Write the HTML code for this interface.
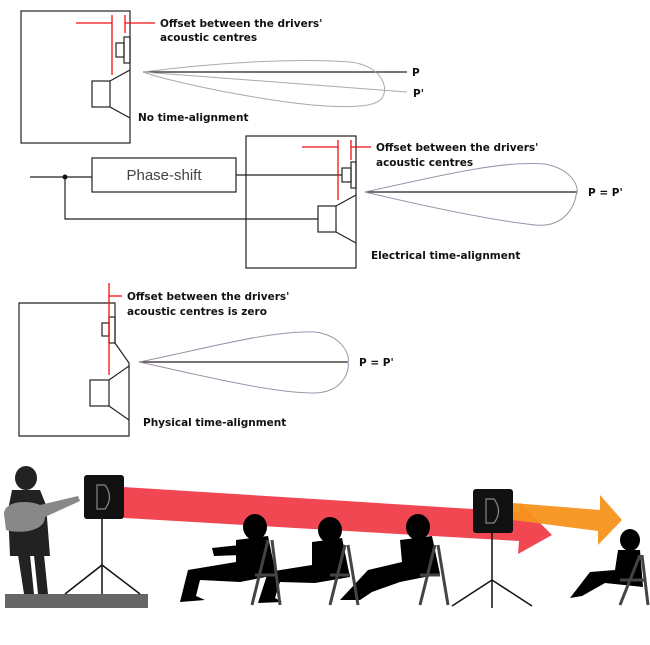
<!DOCTYPE html>
<html><head><meta charset="utf-8"><style>
html,body{margin:0;padding:0;background:#fff;}
svg{display:block;}
.t{font-family:"DejaVu Sans",sans-serif;font-weight:bold;font-size:10.5px;fill:#111;}
</style></head><body>
<svg width="650" height="645" viewBox="0 0 650 645" xmlns="http://www.w3.org/2000/svg">
<g fill="none" stroke="#222" stroke-width="1.2">
<rect x="21" y="11" width="109" height="132"/>
<rect x="124" y="37" width="6" height="26"/>
<rect x="116" y="43" width="8" height="14"/>
<rect x="92" y="81" width="18" height="26"/>
<line x1="110" y1="81" x2="130" y2="70"/>
<line x1="110" y1="107" x2="130" y2="118"/>
<line x1="143" y1="72" x2="407" y2="72"/>
</g>
<g fill="none" stroke="#aaa" stroke-width="1">
<path d="M143 72 C220 62 300 58 350 62 C385 66 390 92 380 100 C370 110 320 108 260 98 C200 88 160 78 143 72 Z"/>
<line x1="143" y1="72" x2="407" y2="92"/>
</g>
<g stroke="#e11" stroke-width="1.3">
<line x1="76" y1="23" x2="112" y2="23"/><line x1="125" y1="23" x2="155" y2="23"/>
<line x1="112" y1="15" x2="112" y2="75"/><line x1="125" y1="15" x2="125" y2="33"/>
</g>
<text class="t" x="160" y="27">Offset between the drivers'</text>
<text class="t" x="160" y="41">acoustic centres</text>
<text class="t" x="412" y="76">P</text>
<text class="t" x="413" y="97">P'</text>
<text class="t" x="138" y="121">No time-alignment</text>

<g fill="none" stroke="#222" stroke-width="1.2">
<rect x="246" y="136" width="110" height="132"/>
<rect x="92" y="158" width="144" height="34"/>
<rect x="351" y="162" width="5" height="26"/>
<rect x="342" y="168" width="9" height="14"/>
<rect x="318" y="206" width="18" height="26"/>
<line x1="336" y1="206" x2="356" y2="195"/>
<line x1="336" y1="232" x2="356" y2="243"/>
<line x1="30" y1="177" x2="92" y2="177"/>
<polyline points="65,177 65,219 318,219"/>
<line x1="236" y1="175" x2="342" y2="175"/>
<line x1="365" y1="192" x2="577" y2="192"/>
</g>
<circle cx="65" cy="177" r="2.5" fill="#111"/>
<path d="M365 192 C430 178 500 160 545 164 C575 170 580 190 576 195 C575 205 565 228 535 225 C490 220 420 205 365 192 Z" fill="none" stroke="#a090a8" stroke-width="1"/>
<g stroke="#e11" stroke-width="1.3">
<line x1="302" y1="147" x2="338" y2="147"/><line x1="351" y1="147" x2="371" y2="147"/>
<line x1="338" y1="140" x2="338" y2="200"/><line x1="351" y1="140" x2="351" y2="160"/>
</g>
<text x="164" y="180" font-family="Liberation Sans,sans-serif" font-size="15" fill="#444" text-anchor="middle">Phase-shift</text>
<text class="t" x="376" y="151">Offset between the drivers'</text>
<text class="t" x="376" y="166">acoustic centres</text>
<text class="t" x="588" y="196">P = P'</text>
<text class="t" x="371" y="259">Electrical time-alignment</text>

<g fill="none" stroke="#222" stroke-width="1.2">
<polyline points="115,343 115,303 19,303 19,436 129,436 129,363 115,343"/>
<rect x="109" y="317" width="6" height="26"/>
<rect x="102" y="323" width="7" height="13"/>
<rect x="90" y="380" width="19" height="26"/>
<line x1="109" y1="380" x2="129" y2="366"/>
<line x1="109" y1="406" x2="129" y2="420"/>
<line x1="139" y1="362" x2="348" y2="362"/>
</g>
<path d="M139 362 C200 350 270 330 315 332 C345 336 350 358 348 362 C350 368 345 392 315 393 C270 393 200 375 139 362 Z" fill="none" stroke="#a090a8" stroke-width="1"/>
<g stroke="#e11" stroke-width="1.3">
<line x1="109" y1="283" x2="109" y2="375"/><line x1="109" y1="296" x2="122" y2="296"/>
</g>
<text class="t" x="127" y="300">Offset between the drivers'</text>
<text class="t" x="127" y="315">acoustic centres is zero</text>
<text class="t" x="359" y="366">P = P'</text>
<text class="t" x="143" y="426">Physical time-alignment</text>

<rect x="5" y="594" width="143" height="14" fill="#666"/>
<g fill="#222">
<ellipse cx="26" cy="478" rx="11" ry="12"/>
<path d="M12 490 L40 490 L46 505 L50 556 L10 556 L8 510 Z"/>
<path d="M18 555 L24 594 L34 594 L30 555 Z M34 555 L38 594 L48 594 L44 555Z"/>
</g>
<path d="M4 514 C4 500 30 500 40 505 L78 496 L80 501 L45 517 C45 532 18 534 6 530 Z" fill="#888"/>
<rect x="84" y="475" width="40" height="44" rx="3" fill="#111"/>
<path d="M97 485 L105 485 Q114 497 105 509 L97 509 Z" fill="none" stroke="#888" stroke-width="1.2"/>
<g stroke="#111" stroke-width="1.5" fill="none">
<line x1="102" y1="519" x2="102" y2="594"/>
<polyline points="65,594 102,565 140,594"/>
</g>
<path d="M124 487 L520 512 L520 503 L552 535 L518 554 L519 541 L124 518 Z" fill="#ee3340" opacity="0.9"/>
<path d="M513 503 L600 510 L600 495 L622 520 L598 545 L598 531 L513 520 Z" fill="#f7931e" opacity="0.95"/>
<g fill="#000">
<ellipse cx="255" cy="527" rx="12" ry="13"/>
<path d="M236 540 L268 536 L276 575 L240 582 L200 580 L196 596 L205 600 L180 602 L188 570 L236 562 Z"/>
<path d="M212 548 L240 545 L242 555 L214 556 Z"/>
<ellipse cx="330" cy="530" rx="12" ry="13"/>
<path d="M312 542 L342 538 L350 577 L315 583 L280 582 L275 598 L282 602 L258 603 L268 572 L312 565 Z"/>
<ellipse cx="418" cy="527" rx="12" ry="13"/>
<path d="M400 540 L432 536 L440 574 L400 582 L372 592 L360 600 L340 600 L368 570 L402 562 Z"/>
<ellipse cx="630" cy="540" rx="10" ry="11"/>
<path d="M618 550 L640 550 L643 587 L605 583 L582 596 L570 598 L590 572 L615 570 Z"/>
</g>
<g stroke="#444" stroke-width="3" fill="none">
<path d="M268 540 L252 605 M255 575 L275 575 M272 540 L280 605"/>
<path d="M345 545 L330 605 M330 575 L350 575 M348 545 L358 605"/>
<path d="M435 545 L420 605 M420 575 L440 575 M438 545 L448 605"/>
<path d="M640 555 L620 605 M620 580 L645 580 M642 555 L648 605"/>
</g>
<rect x="473" y="489" width="40" height="44" rx="3" fill="#111"/>
<path d="M486 499 L494 499 Q503 511 494 523 L486 523 Z" fill="none" stroke="#888" stroke-width="1.2"/>
<g stroke="#111" stroke-width="1.5" fill="none">
<line x1="492" y1="533" x2="492" y2="608"/>
<polyline points="452,606 492,580 532,606"/>
</g>
</svg>
</body></html>
